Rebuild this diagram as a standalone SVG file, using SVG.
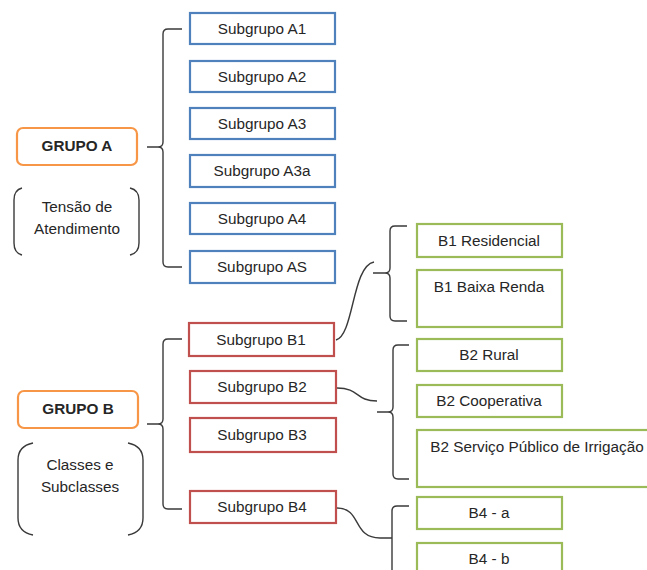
<svg xmlns="http://www.w3.org/2000/svg" width="647" height="570" viewBox="0 0 647 570">
<style>
text{font-family:"Liberation Sans",Arial,sans-serif;font-size:15.3px;fill:#262626;text-anchor:middle}
.b{font-weight:bold}
.blue{fill:#fff;stroke:#4F81BD;stroke-width:2.2}
.red{fill:#fff;stroke:#C0504D;stroke-width:2.2}
.green{fill:#fff;stroke:#9BBB59;stroke-width:2.2}
.orange{fill:#fff;stroke:#F79646;stroke-width:2.2}
.br{fill:none;stroke:#3a3a3a;stroke-width:1.4}
</style>
<rect width="647" height="570" fill="#fff"/>
<g id="connectors" class="br">
<path d="M182,29 H168 Q163,29 163,34 V142 Q163,147 158,147 H147 M158,147 Q163,147 163,152 V262 Q163,267 168,267 H182"/>
<path d="M182,339 H168 Q163,339 163,344 V419 Q163,424 158,424 H147 M158,424 Q163,424 163,429 V504 Q163,509 168,509 H182"/>
<path d="M407,226 H395 Q390,226 390,231 V268 Q390,273 385,273 H373 M385,273 Q390,273 390,278 V316 Q390,321 395,321 H407"/>
<path d="M336,340 C354,335 352,266 374,262"/>
<path d="M409,345 H398 Q393,345 393,350 V407 Q393,412 388,412 H377 M388,412 Q393,412 393,417 V474 Q393,479 398,479 H409"/>
<path d="M337,388 C360,388 355,401 377,401"/>
<path d="M409,506 H397 Q392,506 392,511 V570"/>
<path d="M337,508 C362,508 352,538 380,538 H392"/>
<path d="M22,188 Q14,190 14,200 V243 Q14,253 22,255"/>
<path d="M130,188 Q139,190 139,200 V243 Q139,253 130,255"/>
<path d="M33,443 Q18,446 18,460 V518 Q18,532 33,535"/>
<path d="M128,443 Q143,446 143,460 V518 Q143,532 128,535"/>
</g>
<g id="grupoA"><rect class="orange" x="17" y="128" width="120" height="37" rx="6"/><text class="b" x="77" y="151">GRUPO A</text></g>
<g id="tensao"><text x="77" y="212">Tensão de</text><text x="77" y="234">Atendimento</text></g>
<g id="grupoB"><rect class="orange" x="18" y="391" width="120" height="37" rx="6"/><text class="b" x="78" y="414">GRUPO B</text></g>
<g id="classes"><text x="80" y="470">Classes e</text><text x="80" y="492">Subclasses</text></g>
<g id="A1"><rect class="blue" x="190" y="13" width="145" height="31"/><text x="262" y="34">Subgrupo A1</text></g>
<g id="A2"><rect class="blue" x="190" y="61" width="145" height="31"/><text x="262" y="82">Subgrupo A2</text></g>
<g id="A3"><rect class="blue" x="190" y="108" width="145" height="31"/><text x="262" y="129">Subgrupo A3</text></g>
<g id="A3a"><rect class="blue" x="190" y="155" width="145" height="32"/><text x="262" y="176">Subgrupo A3a</text></g>
<g id="A4"><rect class="blue" x="190" y="203" width="145" height="31"/><text x="262" y="224">Subgrupo A4</text></g>
<g id="AS"><rect class="blue" x="190" y="251" width="145" height="32"/><text x="262" y="272">Subgrupo AS</text></g>
<g id="B1"><rect class="red" x="189" y="323" width="145" height="33"/><text x="261" y="345">Subgrupo B1</text></g>
<g id="B2"><rect class="red" x="190" y="371" width="146" height="32"/><text x="262" y="392">Subgrupo B2</text></g>
<g id="B3"><rect class="red" x="190" y="418" width="146" height="34"/><text x="262" y="440">Subgrupo B3</text></g>
<g id="B4"><rect class="red" x="190" y="491" width="146" height="32"/><text x="262" y="512">Subgrupo B4</text></g>
<g id="B1R"><rect class="green" x="417" y="224" width="145" height="33"/><text x="489" y="246">B1 Residencial</text></g>
<g id="B1BR"><rect class="green" x="417" y="270" width="145" height="57"/><text x="489" y="292">B1 Baixa Renda</text></g>
<g id="B2R"><rect class="green" x="417" y="339" width="145" height="32"/><text x="489" y="360">B2 Rural</text></g>
<g id="B2C"><rect class="green" x="417" y="385" width="145" height="32"/><text x="489" y="406">B2 Cooperativa</text></g>
<g id="B2S"><rect class="green" x="417" y="430" width="260" height="57"/><text x="537" y="452">B2 Serviço Público de Irrigação</text></g>
<g id="B4a"><rect class="green" x="417" y="497" width="145" height="32"/><text x="489" y="518">B4 - a</text></g>
<g id="B4b"><rect class="green" x="417" y="543" width="145" height="40"/><text x="489" y="564">B4 - b</text></g>
</svg>
